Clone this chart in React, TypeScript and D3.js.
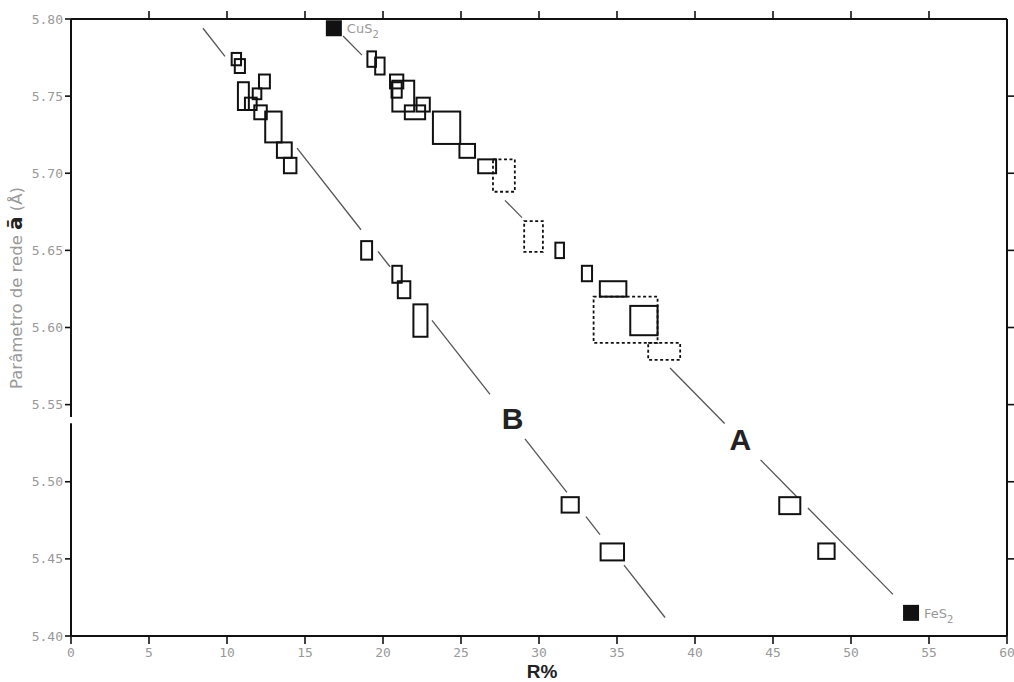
import React from "react";
import * as d3 from "d3";

// ---- data ----
const xTicks = [0, 5, 10, 15, 20, 25, 30, 35, 40, 45, 50, 55, 60];
const yTicks = [5.8, 5.75, 5.7, 5.65, 5.6, 5.55, 5.5, 5.45, 5.4];
const yTickLabels = ["5.80", "5.75", "5.70", "5.65", "5.60", "5.55", "5.50", "5.45", "5.40"];

// boxes: [xMin, xMax, yMin, yMax]
const seriesBBoxes: number[][] = [
  [10.3, 10.9, 5.77, 5.778],
  [10.5, 11.15, 5.765, 5.774],
  [10.7, 11.4, 5.741, 5.759],
  [12.05, 12.75, 5.755, 5.764],
  [11.65, 12.2, 5.748, 5.755],
  [11.15, 11.9, 5.741, 5.749],
  [11.75, 12.55, 5.735, 5.744],
  [12.45, 13.5, 5.72, 5.74],
  [13.2, 14.15, 5.71, 5.72],
  [13.65, 14.45, 5.7, 5.71],
  [18.6, 19.3, 5.644, 5.656],
  [20.6, 21.2, 5.629, 5.64],
  [20.95, 21.75, 5.619, 5.63],
  [21.95, 22.85, 5.594, 5.615],
  [31.45, 32.55, 5.48, 5.49],
  [33.95, 35.45, 5.449, 5.46],
];
const seriesASolidBoxes: number[][] = [
  [19.0, 19.55, 5.769, 5.779],
  [19.5, 20.1, 5.764, 5.775],
  [20.45, 21.3, 5.755, 5.764],
  [20.55, 21.2, 5.749, 5.759],
  [20.6, 22.0, 5.74, 5.76],
  [21.4, 22.7, 5.735, 5.744],
  [22.15, 23.0, 5.74, 5.749],
  [23.2, 24.95, 5.719, 5.74],
  [24.9, 25.9, 5.71, 5.719],
  [26.1, 27.25, 5.7, 5.709],
  [31.05, 31.6, 5.645, 5.655],
  [32.75, 33.4, 5.63, 5.64],
  [33.9, 35.6, 5.62, 5.63],
  [35.85, 37.6, 5.595, 5.614],
  [45.4, 46.75, 5.479, 5.49],
  [47.9, 48.95, 5.45, 5.46],
];
const seriesADashedBoxes: number[][] = [
  [27.05, 28.45, 5.688, 5.709],
  [29.05, 30.25, 5.649, 5.669],
  [33.5, 37.6, 5.59, 5.62],
  [37.0, 39.05, 5.579, 5.59],
];
// end members
const endMembers = [
  { name: "CuS", sub: "2", x: 16.85, y: 5.794 },
  { name: "FeS", sub: "2", x: 53.85, y: 5.415 },
];
// trend lines: endpoints and visible x-ranges
const lineA = { p0: [17.44, 5.789], p1: [52.69, 5.427] };
const lineASegments = [[17.44, 18.65], [27.82, 28.91], [38.4, 41.9], [44.2, 46.54], [47.24, 52.69]];
const lineB = { p0: [8.46, 5.794], p1: [38.08, 5.412] };
const lineBSegments = [[8.46, 9.87], [14.49, 18.59], [19.68, 20.45], [23.14, 26.86], [29.1, 31.79], [33.01, 33.91], [35.45, 38.08]];
const seriesLabels = [
  { text: "B", x: 28.3, y: 5.5413 },
  { text: "A", x: 42.9, y: 5.5277 },
];

const W = 1014, H = 682;
const left = 71, right = 1007, top = 19, bottom = 636;

export default function App() {
  const x = d3.scaleLinear().domain([0, 60]).range([left, right]);
  const y = d3.scaleLinear().domain([5.4, 5.8]).range([bottom, top]);
  const gray = "#999";
  const mono = "'DejaVu Sans Mono', monospace";

  const seg = (line: { p0: number[]; p1: number[] }, s: number[], key: string) => {
    const slope = (line.p1[1] - line.p0[1]) / (line.p1[0] - line.p0[0]);
    const f = (v: number) => line.p0[1] + (v - line.p0[0]) * slope;
    return (
      <line key={key} x1={x(s[0])} y1={y(f(s[0]))} x2={x(s[1])} y2={y(f(s[1]))}
        stroke="#555" strokeWidth={1.3} />
    );
  };
  const box = (b: number[], key: string, dashed: boolean) => (
    <rect key={key} x={x(b[0])} y={y(b[3])} width={x(b[1]) - x(b[0])} height={y(b[2]) - y(b[3])}
      fill="none" stroke="#111" strokeWidth={dashed ? 1.8 : 2}
      strokeDasharray={dashed ? "3,2.5" : undefined} />
  );

  const breakTop = y(5.542), breakBot = y(5.538);

  return (
    <svg width={W} height={H} style={{ position: "absolute", left: 0, top: 0, background: "#fff" }}
      fontFamily="'DejaVu Sans', sans-serif">
      {/* frame */}
      <line x1={left} y1={top} x2={right} y2={top} stroke="#111" strokeWidth={2} />
      <line x1={left} y1={bottom} x2={right} y2={bottom} stroke="#111" strokeWidth={2} />
      <line x1={right} y1={top} x2={right} y2={bottom} stroke="#111" strokeWidth={2} />
      <line x1={left} y1={top} x2={left} y2={breakTop} stroke="#111" strokeWidth={2} />
      <line x1={left} y1={breakBot} x2={left} y2={bottom} stroke="#111" strokeWidth={2} />

      {/* x ticks */}
      {xTicks.map((t) => (
        <g key={"xt" + t}>
          <line x1={x(t)} x2={x(t)} y1={bottom} y2={bottom + 8} stroke="#111" strokeWidth={1.6} />
          {t > 0 && t < 60 && <line x1={x(t)} x2={x(t)} y1={top} y2={top - 8} stroke="#111" strokeWidth={1.6} />}
          <text x={x(t)} y={657} textAnchor="middle" fontSize={13} fill={gray} fontFamily={mono}>{t}</text>
        </g>
      ))}
      {/* y ticks */}
      {yTicks.map((t, i) => (
        <g key={"yt" + t}>
          <line x1={left - 6} x2={left} y1={y(t)} y2={y(t)} stroke="#111" strokeWidth={1.6} />
          {i > 0 && i < yTicks.length - 1 && (
            <line x1={right} x2={right + 7} y1={y(t)} y2={y(t)} stroke="#111" strokeWidth={1.6} />
          )}
          <text x={left - 8} y={y(t) + 4.5} textAnchor="end" fontSize={13} fill={gray} fontFamily={mono}>
            {yTickLabels[i]}
          </text>
        </g>
      ))}

      {/* axis titles */}
      <text x={542} y={678} textAnchor="middle" fontSize={19} fontWeight="bold" fill="#222"
        fontFamily="'Liberation Sans', Arial, sans-serif">R%</text>
      <text transform={`translate(22, 288) rotate(-90)`} textAnchor="middle"
        fontSize={16.5} fill={gray}>
        Parâmetro de rede <tspan fontWeight="bold" fontSize={20} fill="#222">ā</tspan> (Å)
      </text>

      {/* trend lines */}
      {lineASegments.map((s, i) => seg(lineA, s, "la" + i))}
      {lineBSegments.map((s, i) => seg(lineB, s, "lb" + i))}

      {/* boxes */}
      {seriesBBoxes.map((b, i) => box(b, "b" + i, false))}
      {seriesASolidBoxes.map((b, i) => box(b, "as" + i, false))}
      {seriesADashedBoxes.map((b, i) => box(b, "ad" + i, true))}

      {/* end members */}
      {endMembers.map((m) => (
        <g key={m.name}>
          <rect x={x(m.x) - 8} y={y(m.y) - 8} width={16} height={16} fill="#111" />
          <text x={x(m.x) + 13} y={y(m.y) + 5} fontSize={13} fill={gray}>
            {m.name}
            <tspan dy={5} fontSize={10}>{m.sub}</tspan>
          </text>
        </g>
      ))}

      {/* series labels */}
      {seriesLabels.map((l) => (
        <text key={l.text} x={x(l.x)} y={y(l.y) + 11} textAnchor="middle" fontSize={30} fontWeight="bold"
          fill="#222" fontFamily="'Liberation Sans', Arial, sans-serif">{l.text}</text>
      ))}
    </svg>
  );
}
